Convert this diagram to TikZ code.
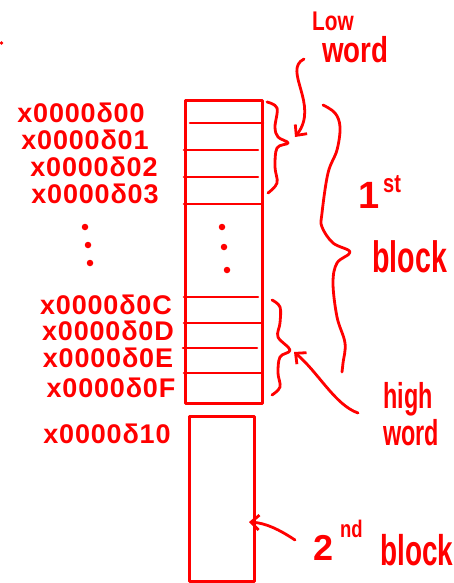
\documentclass[tikz,border=0pt]{standalone}
\usepackage{fontspec}
\setmainfont{Liberation Sans}
\newfontfamily\hand{Liberation Sans}
\newfontfamily\handsp[LetterSpace=3]{Liberation Sans}
\newfontfamily\handn[FakeStretch=0.77]{Liberation Sans}
\newfontfamily\handc[FakeStretch=0.65]{Liberation Sans}
\usetikzlibrary{arrows.meta}
\definecolor{ink}{RGB}{255,0,0}
\begin{document}
\begin{tikzpicture}[x=1pt,y=-1pt,color=ink,line cap=round,line join=round,
  pen/.style={draw=ink,line width=2.6pt},
  brace/.style={draw=ink,line width=2.8pt},
  arr/.style={draw=ink,line width=2.8pt,-{Straight Barb[length=8pt,width=15pt]}},
  addr/.style={text=ink,inner sep=0pt,font=\handsp\bfseries\fontsize{27}{27}\selectfont},
  word/.style={text=ink,inner sep=0pt,anchor=base west},
  blob/.style={fill=ink,circle,inner sep=0pt,minimum size=6.5pt}]
\useasboundingbox (0,0) rectangle (454,583);

% stray pen mark
\fill[ink] (1.5,43) circle (1.8pt);

% address column
\node[addr] (a0)  at (81,113)  {x0000δ00};
\node[addr] (a1)  at (85,140)  {x0000δ01};
\node[addr] (a2)  at (94,167)  {x0000δ02};
\node[addr] (a3)  at (95,194)  {x0000δ03};
\node[blob] (ld1) at (85,227) {};
\node[blob] (ld2) at (88,245) {};
\node[blob] (ld3) at (90,263) {};
\node[addr] (ac)  at (106,305) {x0000δ0C};
\node[addr] (ad)  at (108,331) {x0000δ0D};
\node[addr] (ae)  at (108,358) {x0000δ0E};
\node[addr] (af)  at (111,388) {x0000δ0F};
\node[addr] (a10) at (107,434) {x0000δ10};

% first block with its words
\node[pen,inner sep=0pt,minimum width=77pt,minimum height=303pt,anchor=north west] (blk1) at (184,99) {};
\foreach \yy/\xa/\xb in {123/190/263,150/184/258,177/184/258,204/184/261,
                         297/184/258,323/184/261,348/183/257,373/184/261}
  \draw[pen] (\xa,\yy) -- (\xb,\yy);
\node[blob] (md1) at (222,227) {};
\node[blob] (md2) at (224,247) {};
\node[blob] (md3) at (227,270) {};

% second block
\node[pen,inner sep=0pt,minimum width=65pt,minimum height=165pt,anchor=north west] (blk2) at (188,415) {};

% braces
\draw[brace] plot[smooth,tension=0.6] coordinates {(267,102) (277,108) (275,127) (278,137) (288,143)
  (277,148) (275,167) (277,183) (268,193)};
\draw[brace] plot[smooth,tension=0.6] coordinates {(272,300) (280,307) (280,323) (278,337) (290,350)
  (280,357) (278,373) (280,387) (272,395)};
\draw[brace] plot[smooth,tension=0.6] coordinates {(323,105) (335,113) (340,127) (337,150) (328,173)
  (322,213) (322,227) (333,243) (350,252) (337,263) (333,283) (337,317) (345,343) (343,363) (342,372)};

% labels
\node[word,font=\handn\bfseries\fontsize{27}{27}\selectfont] (low) at (312,31) {Low};
\node[word,font=\handn\bfseries\fontsize{36}{36}\selectfont] (loww) at (322,63) {word};
\node[word,font=\hand\bfseries\fontsize{38}{38}\selectfont] (one) at (358,208) {1};
\node[word,font=\handn\bfseries\fontsize{26}{26}\selectfont] (st) at (383,192) {st};
\node[word,font=\handc\bfseries\fontsize{44}{44}\selectfont] (blkA) at (372,272) {block};
\node[word,font=\handc\bfseries\fontsize{36}{36}\selectfont] (high) at (383,408) {high};
\node[word,font=\handc\bfseries\fontsize{36}{36}\selectfont] (highw) at (383,445) {word};
\node[word,font=\hand\bfseries\fontsize{36}{36}\selectfont] (two) at (313,560) {2};
\node[word,font=\handn\bfseries\fontsize{24}{24}\selectfont] (nd) at (340,537) {nd};
\node[word,font=\handc\bfseries\fontsize{43}{43}\selectfont] (blkB) at (380,565) {block};

% pointers
\coordinate (lwfrom) at (304,59);
\coordinate (lwto) at (295,137);
\coordinate (hwfrom) at (358,413);
\coordinate (hwto) at (294,352);
\coordinate (sbfrom) at (295,540);
\coordinate (sbto) at (249,522);
\draw[arr] (lwfrom) .. controls (282,70) and (320,105) .. (lwto);
\draw[arr] (hwfrom) .. controls (335,405) and (318,372) .. (hwto);
\draw[arr] (sbfrom) .. controls (280,530) and (266,523) .. (sbto);
\end{tikzpicture}
\end{document}
